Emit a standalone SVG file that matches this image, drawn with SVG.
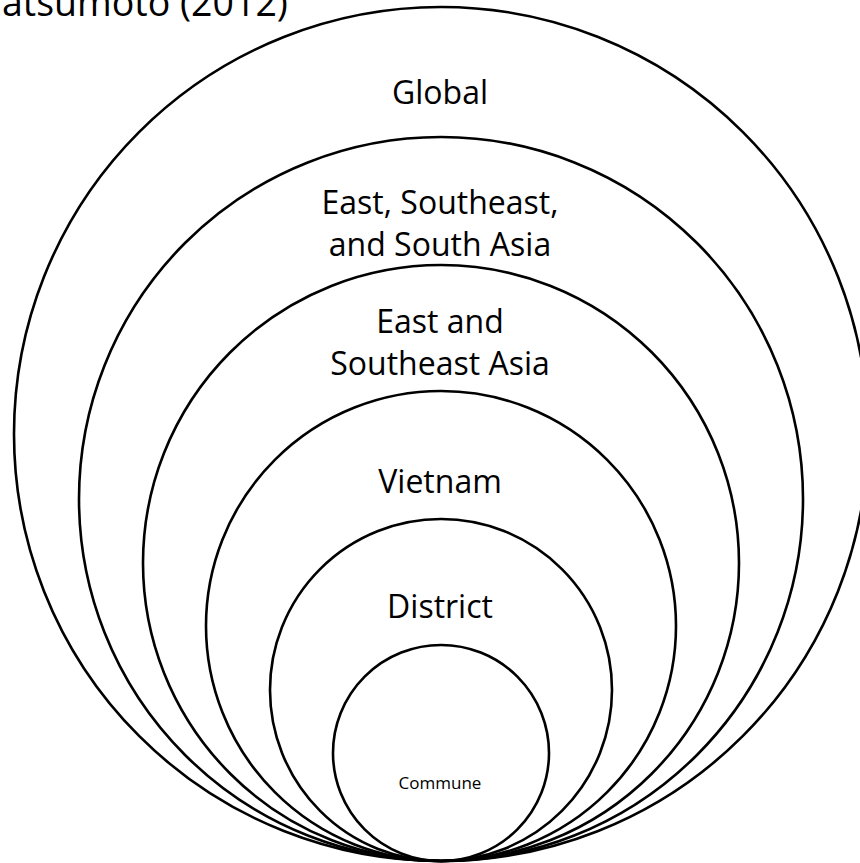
<svg xmlns="http://www.w3.org/2000/svg" width="860" height="863" viewBox="0 0 860 863">
<style>
.ring{fill:none;stroke:#000;stroke-width:2.6}
.lbl{font-family:"Open Sans","Liberation Sans",sans-serif;font-size:32px;fill:#000;text-anchor:middle}
.small{font-size:17px}
.title{font-family:"Open Sans","Liberation Sans",sans-serif;font-size:37.5px;fill:#000}
</style>
<rect width="860" height="863" fill="#fff"/>
<text class="title" x="2" y="16">atsumoto (2012)</text>
<g id="global"><circle class="ring" cx="441" cy="434" r="427"/><text class="lbl" x="440" y="104">Global</text></g>
<g id="east-southeast-south-asia"><circle class="ring" cx="441" cy="499" r="362"/><text class="lbl" x="440" y="214">East, Southeast,</text><text class="lbl" x="440" y="256">and South Asia</text></g>
<g id="east-southeast-asia"><circle class="ring" cx="441" cy="563" r="298"/><text class="lbl" x="440" y="333">East and</text><text class="lbl" x="440" y="375">Southeast Asia</text></g>
<g id="vietnam"><circle class="ring" cx="441" cy="626" r="235"/><text class="lbl" x="440" y="493">Vietnam</text></g>
<g id="district"><circle class="ring" cx="441" cy="690" r="171"/><text class="lbl" x="440" y="618">District</text></g>
<g id="commune"><circle class="ring" cx="441" cy="753" r="108"/><text class="lbl small" x="440" y="789">Commune</text></g>
<g id="connectors"></g>
</svg>
